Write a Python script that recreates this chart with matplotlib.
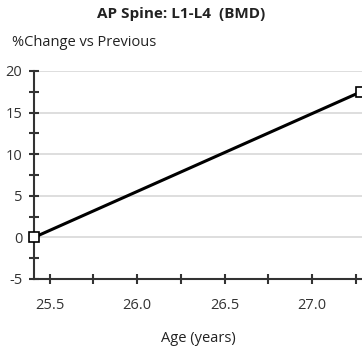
import numpy as np
import matplotlib
matplotlib.use("Agg")
import matplotlib.pyplot as plt
from matplotlib.ticker import MultipleLocator

# data
age = [25.41, 27.28]
pct_change = [0.0, 17.5]
y_ticks = [-5, 0, 5, 10, 15, 20]
x_ticks = [25.5, 26.0, 26.5, 27.0]

plt.rcParams['font.family'] = ['Open Sans', 'DejaVu Sans']

fig = plt.figure(figsize=(3.62, 3.56), dpi=100)
ax = fig.add_axes([34 / 362, 77 / 356, 334 / 362, 208 / 356])

ax.plot(age, pct_change, color='black', lw=2.2, marker='s', ms=7,
        mfc='white', mec='black', mew=1.2, clip_on=False, zorder=3)

ax.set_xlim(25.41, 27.32)
ax.set_ylim(-5, 20)
ax.set_yticks(y_ticks)
ax.set_yticklabels([str(v) for v in y_ticks])  # plain hyphen like the original
ax.set_xticks(x_ticks)
ax.set_xticklabels(['%.1f' % v for v in x_ticks])
ax.yaxis.set_minor_locator(MultipleLocator(2.5))
ax.xaxis.set_minor_locator(MultipleLocator(0.25))

ax.grid(axis='y', which='major', color='#d8d8d8', lw=1.2)
ax.set_axisbelow(True)
for s in ['top', 'right']:
    ax.spines[s].set_visible(False)
for s in ['left', 'bottom']:
    ax.spines[s].set_color('#333333')
    ax.spines[s].set_linewidth(1.5)

ax.tick_params(which='both', direction='inout', color='#333333', width=1.5)
ax.tick_params(which='major', length=7, labelsize=10.5, pad=5, labelcolor='#333333')
ax.tick_params(which='minor', length=7)
ax.tick_params(axis='x', which='major', pad=10)

fig.text(181 / 362, 1 - 14 / 356, 'AP Spine: L1-L4  (BMD)', ha='center', va='center',
         fontsize=11, fontweight='bold', color='#222222')
fig.text(12 / 362, 1 - 42 / 356, '%Change vs Previous', ha='left', va='center',
         fontsize=10.5, color='#222222')
fig.text(198 / 362, 1 - 339 / 356, 'Age (years)', ha='center', va='center',
         fontsize=10.5, color='#222222')

fig.savefig('out.png', dpi=100)
